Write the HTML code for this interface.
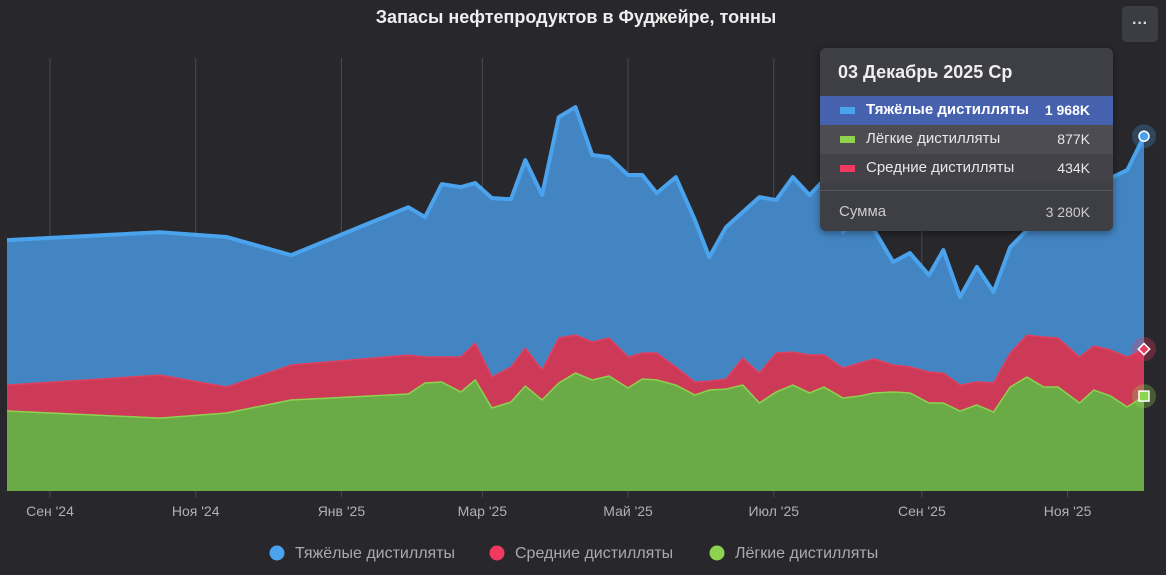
<!DOCTYPE html>
<html><head><meta charset="utf-8">
<style>
html,body{margin:0;padding:0;background:#27272c;}
body{width:1166px;height:575px;overflow:hidden;position:relative;font-family:"Liberation Sans","DejaVu Sans",sans-serif;}
svg{position:absolute;left:0;top:0;}
.tt{position:absolute;left:820px;top:48px;width:293px;height:183px;background:#3e3e45;border-radius:6px;color:#e8e8e8;box-shadow:0 2px 8px rgba(0,0,0,.4);overflow:hidden;}
.tt .hd{position:absolute;left:18px;top:14px;font-size:18px;font-weight:bold;color:#eee;}
.row{position:absolute;left:0;width:293px;height:29px;font-size:15px;}
.row .sw{position:absolute;left:20px;top:11px;width:15px;height:7px;}
.row .lb{position:absolute;left:46px;top:5px;}
.row .v{position:absolute;right:23px;top:6px;font-size:14px;}
.menu{position:absolute;left:1122px;top:6px;width:36px;height:36px;background:#3c3c43;border-radius:4px;color:#ddd;text-align:center;font-size:16px;line-height:36px;font-weight:bold;}
</style></head><body>
<svg id="chart" width="1166" height="575"></svg>
<div class="menu">···</div>
<div class="tt">
  <div class="hd">03 Декабрь 2025 Ср</div>
  <div class="row" style="top:48px;background:#4662ae;font-weight:bold;color:#fff"><span class="sw" style="background:#4aa3ec"></span><span class="lb">Тяжёлые дистилляты</span><span class="v">1 968K</span></div>
  <div class="row" style="top:77px;background:#4c4c52"><span class="sw" style="background:#8ed34f"></span><span class="lb">Лёгкие дистилляты</span><span class="v">877K</span></div>
  <div class="row" style="top:106px;background:#424248"><span class="sw" style="background:#f0395f"></span><span class="lb">Средние дистилляты</span><span class="v">434K</span></div>
  <div style="position:absolute;left:0;top:142px;width:293px;height:1px;background:#56565c"></div>
  <div class="row" style="top:150px;color:#ccc"><span class="lb" style="left:19px">Сумма</span><span class="v">3 280K</span></div>
</div>
<script>
const dates=["2024-08-14","2024-10-17","2024-11-14","2024-12-11","2025-01-29","2025-02-05","2025-02-12","2025-02-20","2025-02-26","2025-03-05","2025-03-13","2025-03-19","2025-03-26","2025-04-02","2025-04-09","2025-04-16","2025-04-23","2025-05-01","2025-05-07","2025-05-13","2025-05-21","2025-05-29","2025-06-04","2025-06-11","2025-06-18","2025-06-25","2025-07-02","2025-07-09","2025-07-16","2025-07-22","2025-07-30","2025-08-06","2025-08-12","2025-08-20","2025-08-27","2025-09-04","2025-09-10","2025-09-17","2025-09-24","2025-10-01","2025-10-08","2025-10-15","2025-10-22","2025-10-28","2025-11-06","2025-11-12","2025-11-19","2025-11-26","2025-12-03"];
const light=[739,674,721,841,896,998,1007,915,1026,767,822,970,841,998,1090,1026,1063,952,1035,1026,979,887,933,942,979,813,915,979,906,961,859,878,906,915,906,813,813,739,795,730,961,1053,961,961,813,933,878,776,877];
const middle=[240,397,240,323,360,240,231,323,342,286,323,351,277,416,351,351,351,286,240,249,166,120,83,92,249,277,360,305,351,296,277,305,314,249,240,286,277,240,213,268,314,388,462,453,425,407,425,462,434];
const heavy=[1340,1321,1386,1016,1367,1293,1598,1571,1478,1654,1552,1737,1617,2042,2107,1728,1672,1682,1645,1478,1756,1497,1146,1404,1349,1626,1414,1617,1478,1617,1257,1368,1192,952,1053,896,1137,813,1063,841,979,970,1173,1321,1589,1515,1589,1728,1968];
const tickDates=["2024-09-01","2024-11-01","2025-01-01","2025-03-01","2025-05-01","2025-07-01","2025-09-01","2025-11-01"];
const tickLabels=["Сен '24","Ноя '24","Янв '25","Мар '25","Май '25","Июл '25","Сен '25","Ноя '25"];

const svg=document.getElementById('chart');
const NS='http://www.w3.org/2000/svg';
const t0=Date.parse(dates[0]), t1=Date.parse(dates[dates.length-1]);
const X0=7,X1=1144,BASE=491,KPX=0.1082;
function xs(d){return X0+(Date.parse(d)-t0)/(t1-t0)*(X1-X0);}
function ys(v){return BASE-v*KPX;}
function mk(tag,attrs){const e=document.createElementNS(NS,tag);for(const k in attrs)e.setAttribute(k,attrs[k]);svg.appendChild(e);return e;}

let ti=mk('text',{x:576,y:23,'text-anchor':'middle',fill:'#eeeeee','font-size':'18','font-weight':'bold'});
ti.textContent='Запасы нефтепродуктов в Фуджейре, тонны';



tickDates.forEach((d,i)=>{
  const x=xs(d);
  const g=mk('line',{x1:x,x2:x,y1:58,y2:497,stroke:'#4a4a51','stroke-width':1});
  
  
  const t=mk('text',{x:x,y:516,'text-anchor':'middle',fill:'#b0b0b5','font-size':'14'});
  t.textContent=tickLabels[i];
  
  
});

const s1=light, s2=light.map((v,i)=>v+middle[i]), s3=s2.map((v,i)=>v+heavy[i]);
function area(top,bot,fill,name){
  let d='M'+dates.map((dt,i)=>xs(dt)+','+ys(top[i])).join('L');
  for(let i=dates.length-1;i>=0;i--)d+='L'+xs(dates[i])+','+ys(bot?bot[i]:0);
  const p=mk('path',{d:d+'Z',fill:fill});
  
  
}
function line(top,stroke,w,name){
  const p=mk('path',{d:'M'+dates.map((dt,i)=>xs(dt)+','+ys(top[i])).join('L'),fill:'none',stroke:stroke,'stroke-width':w,'stroke-linejoin':'round'});
  
  
}
area(s3,s2,'#4385c3','area-heavy');
area(s2,s1,'#cc3a57','area-middle');
area(s1,null,'#6aab47','area-light');
line(s3,'#4aa3ec',4,'line-heavy');
line(s2,'#e0405f',1.5,'line-middle');
line(s1,'#8ed34f',1.5,'line-light');

const li=dates.length-1, lx=xs(dates[li]);
let h=mk('circle',{cx:lx,cy:ys(s3[li]),r:12,fill:'rgba(74,163,236,0.25)'});

let m1=mk('circle',{cx:lx,cy:ys(s3[li]),r:5,fill:'#4aa3ec',stroke:'#fff','stroke-width':1.5});

let h2=mk('circle',{cx:lx,cy:ys(s2[li]),r:12,fill:'rgba(240,57,95,0.3)'});

let m2=mk('rect',{x:lx-4,y:ys(s2[li])-4,width:8,height:8,fill:'#e0405f',stroke:'#fff','stroke-width':1.5,transform:'rotate(45 '+lx+' '+ys(s2[li])+')'});

let h3=mk('circle',{cx:lx,cy:ys(s1[li]),r:12,fill:'rgba(142,211,79,0.3)'});

let m3=mk('rect',{x:lx-5,y:ys(s1[li])-5,width:10,height:10,fill:'#8ed34f',stroke:'#fff','stroke-width':1.5});


const legNames=['Тяжёлые дистилляты','Средние дистилляты','Лёгкие дистилляты'];
const legColors=['#4aa3ec','#f0395f','#8ed34f'];
const legX=[277,497,717];
legNames.forEach((n,i)=>{
  const c=mk('circle',{cx:legX[i],cy:553,r:7.5,fill:legColors[i]});
  
  
  const t=mk('text',{x:legX[i]+18,y:558,fill:'#aaaaae','font-size':'16'});
  t.textContent=n;
  
  
});
</script>
</body></html>
